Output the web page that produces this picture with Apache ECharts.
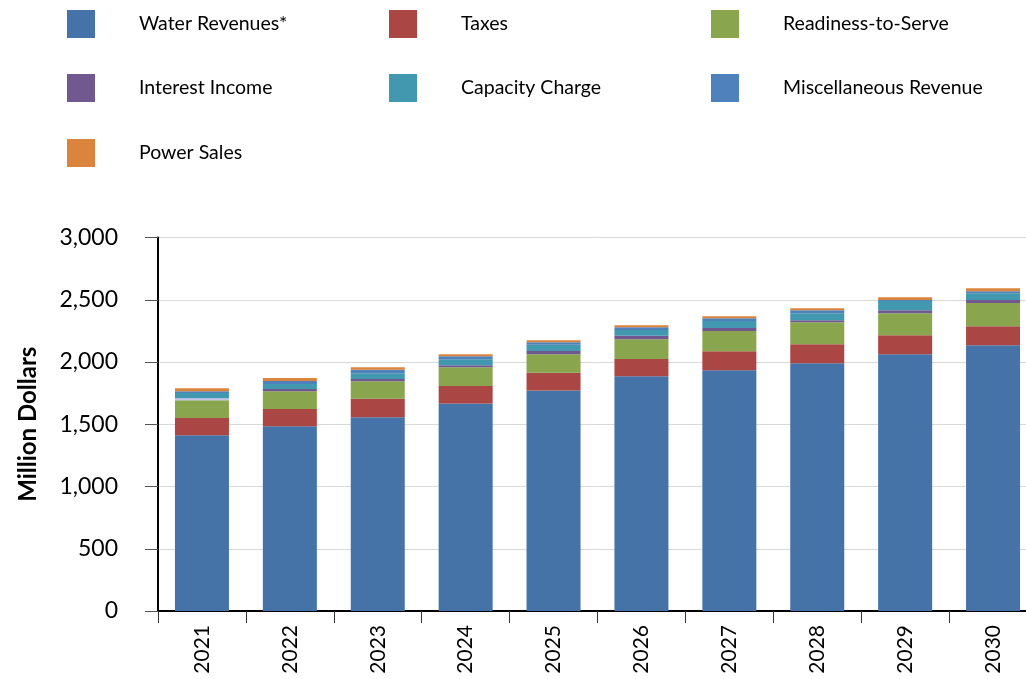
<!DOCTYPE html>
<html>
<head>
<meta charset="utf-8">
<title>Revenue Projection</title>
<script src="https://cdn.jsdelivr.net/npm/echarts@6/dist/echarts.min.js"></script>
<style>
  html, body { margin: 0; padding: 0; background: #fff; }
  #chart { width: 1026px; height: 679px; }
</style>
</head>
<body>
<div id="chart"></div>
<script>
// Fiscal years on the category axis
const years = ['2021', '2022', '2023', '2024', '2025', '2026', '2027', '2028', '2029', '2030'];

// Revenue components, million dollars
const waterRevenues     = [1412, 1484, 1557, 1667, 1771, 1886, 1934, 1990, 2063, 2135];
const taxes             = [139, 139, 147, 141, 142, 139, 153, 153, 152, 153];
const readinessToServe  = [142, 142, 142, 150, 150, 158, 161, 177, 177, 185];
const interestIncome    = [16, 19, 18, 16, 26, 27, 26, 16, 24, 24];
const capacityCharge    = [43, 40, 46, 49, 49, 48, 56, 56, 73, 56];
const miscRevenue       = [14, 24, 27, 24, 21, 22, 22, 24, 8, 16];
const powerSales        = [24, 24, 21, 16, 16, 16, 16, 16, 24, 24];

// Value axis ticks
const yTicks = [0, 500, 1000, 1500, 2000, 2500, 3000];

const FONT = 'Lato, "Open Sans", sans-serif';

const seriesDefs = [
  { name: 'Water Revenues*',        data: waterRevenues,    color: '#4572A7' },
  { name: 'Taxes',                  data: taxes,            color: '#AA4643' },
  { name: 'Readiness-to-Serve',     data: readinessToServe, color: '#89A54E' },
  { name: 'Interest Income',        data: interestIncome,   color: '#71588F' },
  { name: 'Capacity Charge',        data: capacityCharge,   color: '#4198AF' },
  { name: 'Miscellaneous Revenue',  data: miscRevenue,      color: '#4F81BD' },
  { name: 'Power Sales',            data: powerSales,       color: '#DB843D' }
];

// The first interest-income segment is drawn in a pale tint
const paleInterestColor = '#C4C2E6';

const series = seriesDefs.map(function (d) {
  let data = d.data.slice();
  if (d.name === 'Interest Income') {
    data = data.map(function (v, i) {
      return i === 0 ? { value: v, itemStyle: { color: paleInterestColor } } : v;
    });
  }
  return {
    name: d.name,
    type: 'bar',
    stack: 'total',
    barWidth: 54,
    itemStyle: { color: d.color },
    emphasis: { disabled: true },
    data: data
  };
});

// Legend: three columns, one component per entry
const colLeft = [67, 389, 711];
const rowTop = [10, 74, 139];
const legends = seriesDefs.map(function (d, i) {
  return {
    data: [d.name],
    left: colLeft[i % 3],
    top: rowTop[Math.floor(i / 3)],
    padding: 0,
    icon: 'rect',
    itemWidth: 28,
    itemHeight: 28,
    selectedMode: false,
    textStyle: {
      fontFamily: FONT,
      fontSize: 19.5,
      color: '#000',
      padding: [0, 0, 0, 39]
    }
  };
});

const chart = echarts.init(document.getElementById('chart'), null, { renderer: 'canvas' });
chart.setOption({
  animation: false,
  color: seriesDefs.map(function (d) { return d.color; }),
  legend: legends,
  // plot area runs slightly past the right edge of the canvas
  grid: { left: 158, width: 879, top: 237.5, bottom: 68, outerBoundsMode: 'none', containLabel: false },
  xAxis: {
    type: 'category',
    data: years,
    axisLine: { show: true, lineStyle: { color: '#000', width: 2 } },
    axisTick: { show: true, length: 12, lineStyle: { color: '#333', width: 1 } },
    axisLabel: {
      rotate: 90,
      margin: 14,
      fontFamily: FONT,
      fontSize: 21,
      color: '#000'
    }
  },
  yAxis: {
    type: 'value',
    min: yTicks[0],
    max: yTicks[yTicks.length - 1],
    interval: yTicks[1] - yTicks[0],
    name: 'Million Dollars',
    nameLocation: 'middle',
    nameGap: 118,
    nameTextStyle: {
      fontFamily: FONT,
      fontSize: 24,
      fontWeight: 'bold',
      color: '#000'
    },
    axisLine: { show: true, lineStyle: { color: '#000', width: 2 } },
    axisTick: { show: true, length: 13, lineStyle: { color: '#555', width: 1 } },
    axisLabel: {
      margin: 40,
      fontFamily: FONT,
      fontSize: 23,
      color: '#000',
      formatter: function (v) { return v.toLocaleString('en-US'); }
    },
    splitLine: { show: true, lineStyle: { color: '#D9D9D9', width: 1 } }
  },
  series: series
});
</script>
</body>
</html>
